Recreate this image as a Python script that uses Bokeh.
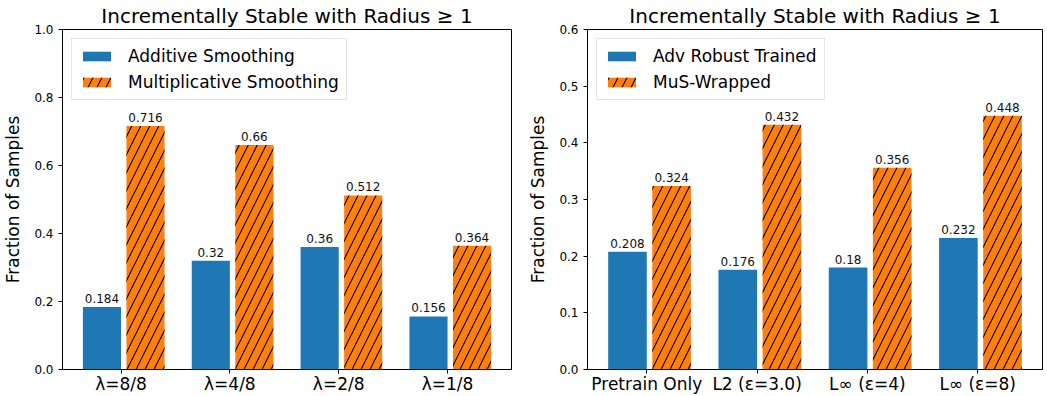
from bokeh.plotting import figure
from bokeh.layouts import row
from bokeh.models import FixedTicker, Range1d, ColumnDataSource, PrintfTickFormatter
from bokeh.core.properties import value
from bokeh.embed import file_html
from bokeh.resources import INLINE

# Left panel: smoothing variants
lam_labels = ["λ=8/8", "λ=4/8", "λ=2/8", "λ=1/8"]
additive = [0.184, 0.32, 0.36, 0.156]
multiplicative = [0.716, 0.66, 0.512, 0.364]

# Right panel: base models
model_labels = ["Pretrain Only", "L2 (ε=3.0)", "L∞ (ε=4)", "L∞ (ε=8)"]
adv_robust = [0.208, 0.176, 0.18, 0.232]
mus_wrapped = [0.324, 0.432, 0.356, 0.448]

left_yticks = [0.0, 0.2, 0.4, 0.6, 0.8, 1.0]
right_yticks = [0.0, 0.1, 0.2, 0.3, 0.4, 0.5, 0.6]

BLUE = "#1f77b4"
ORANGE = "#ff7f0e"
FONT = "DejaVu Sans"
BAR_W = 0.35


def fmt(v):
    return "{:g}".format(v)


def panel(labels, first, second, names, ymax, yticks, width, border_left, border_right):
    p = figure(width=width, height=396, output_backend="svg", toolbar_location=None,
               x_range=Range1d(-0.5375, 3.5875), y_range=Range1d(0, ymax),
               min_border_left=border_left, min_border_right=border_right,
               min_border_top=29, min_border_bottom=26,
               title="Incrementally Stable with Radius ≥ 1")
    p.title.text_font = FONT
    p.title.text_font_size = "20px"
    p.title.text_font_style = "normal"
    p.title.align = "center"
    p.title.text_color = "black"
    p.title.standoff = 3

    xs = list(range(len(labels)))
    src = ColumnDataSource(dict(
        x1=[x - BAR_W / 2 for x in xs],
        x2=[x + 0.05 + BAR_W / 2 for x in xs],
        a=first, b=second,
        la=[fmt(v) for v in first], lb=[fmt(v) for v in second],
    ))
    p.vbar(x="x1", top="a", width=BAR_W, source=src, fill_color=BLUE,
           line_color=None, legend_label=names[0])
    p.vbar(x="x2", top="b", width=BAR_W, source=src, fill_color=ORANGE,
           line_color=None, hatch_pattern="/", hatch_color="black",
           hatch_weight=1.1, hatch_scale=18, legend_label=names[1])

    for xcol, ycol, tcol in (("x1", "a", "la"), ("x2", "b", "lb")):
        p.text(x=xcol, y=ycol, text=tcol, source=src, text_align="center",
               text_baseline="bottom", y_offset=-4, text_font=value(FONT),
               text_font_size="12px", text_color="#111111")

    p.xgrid.visible = False
    p.ygrid.visible = False
    p.outline_line_color = "black"
    p.outline_line_width = 1

    p.xaxis.ticker = FixedTicker(ticks=xs)
    p.xaxis.major_label_overrides = {i: lab for i, lab in enumerate(labels)}
    p.xaxis.major_label_text_font_size = "17px"
    p.xaxis.major_label_standoff = 0
    p.yaxis.ticker = FixedTicker(ticks=yticks)
    p.yaxis.formatter = PrintfTickFormatter(format="%.1f")
    p.yaxis.major_label_text_font_size = "12px"
    p.yaxis.axis_label = "Fraction of Samples"
    p.yaxis.axis_label_text_font_size = "17px"
    p.yaxis.axis_label_text_font_style = "normal"
    p.yaxis.axis_label_standoff = 8
    for ax in (p.xaxis, p.yaxis):
        ax.major_label_text_font = FONT
        ax.axis_label_text_font = FONT
        ax.major_label_text_color = "black"
        ax.axis_label_text_color = "black"
        ax.axis_line_color = "black"
        ax.major_tick_line_color = "black"
        ax.minor_tick_line_color = None
        ax.major_tick_out = 4
        ax.major_tick_in = 0

    lg = p.legend[0]
    lg.location = "top_left"
    lg.margin = 9
    lg.padding = 7
    lg.spacing = 6
    lg.glyph_width = 35
    lg.glyph_height = 12
    lg.label_height = 20
    lg.label_standoff = 14
    lg.label_text_font = FONT
    lg.label_text_font_size = "17px"
    lg.label_text_color = "black"
    lg.border_line_color = "#cccccc"
    lg.background_fill_alpha = 0.8
    return p


left = panel(lam_labels, additive, multiplicative,
             ["Additive Smoothing", "Multiplicative Smoothing"],
             1.0, left_yticks, 525, 59, 14)
right = panel(model_labels, adv_robust, mus_wrapped,
              ["Adv Robust Trained", "MuS-Wrapped"],
              0.6, right_yticks, 522, 62, 5)

layout = row(left, right)
open("out.html", "w").write(file_html(layout, INLINE))
